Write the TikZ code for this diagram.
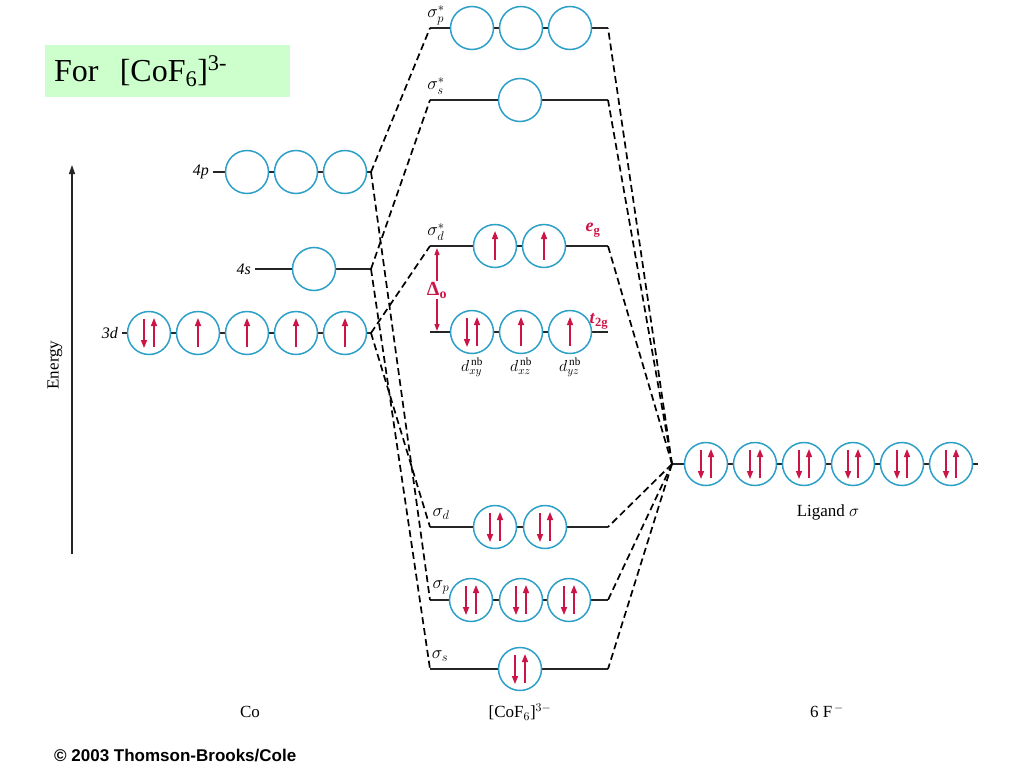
\RequirePackage{fix-cm}
\documentclass[tikz,border=0pt]{standalone}
\usepackage{fontspec}
\setmainfont{Liberation Serif}
\newfontfamily\arialfont{Liberation Sans}
\usepackage{amsmath}
\usepackage{tikz}
\usetikzlibrary{arrows.meta}
\definecolor{orbblue}{RGB}{45,160,200}
\definecolor{spinred}{RGB}{205,20,70}
\definecolor{boxgreen}{RGB}{204,255,204}

\newcommand{\spinup}[1]{\draw[spin] ([yshift=-14pt]#1.center) -- ([yshift=15pt]#1.center);}
\newcommand{\spinpair}[1]{\draw[spin] ([xshift=-5pt,yshift=14pt]#1.center) -- ([xshift=-5pt,yshift=-15pt]#1.center);
  \draw[spin] ([xshift=5pt,yshift=-14pt]#1.center) -- ([xshift=5pt,yshift=15pt]#1.center);}

\begin{document}
\begin{tikzpicture}
  [x=1pt,y=-1pt,
   orb/.style={circle,draw=orbblue,line width=1.5pt,fill=white,minimum size=43pt,inner sep=0pt},
   lvl/.style={line width=1.4pt,black!85},
   conn/.style={line width=1.7pt,dash pattern=on 7pt off 4pt},
   spin/.style={spinred,line width=1.5pt,-{Triangle[length=8pt,width=6pt]}},
   splitarrow/.style={spinred,line width=1.2pt,-{Triangle[length=7pt,width=5pt]}},
   lbl/.style={font=\fontsize{18}{20}\selectfont,inner sep=1pt},
   colname/.style={font=\fontsize{17}{20}\selectfont}]
  \useasboundingbox (0,0) rectangle (1024,768);

  % level ends
  \coordinate (p4L) at (213,172);  \coordinate (p4R) at (371,172);
  \coordinate (s4L) at (255,269);  \coordinate (s4R) at (371,269);
  \coordinate (d3L) at (122,333);  \coordinate (d3R) at (371,333);
  \coordinate (paL) at (430,28);   \coordinate (paR) at (608,28);
  \coordinate (saL) at (430,100);  \coordinate (saR) at (608,100);
  \coordinate (daL) at (430,246);  \coordinate (daR) at (608,246);
  \coordinate (nbL) at (430,332);  \coordinate (nbR) at (608,332);
  \coordinate (dbL) at (430,527);  \coordinate (dbR) at (608,527);
  \coordinate (pbL) at (430,600);  \coordinate (pbR) at (608,600);
  \coordinate (sbL) at (430,669);  \coordinate (sbR) at (608,669);
  \coordinate (lgL) at (672,464);  \coordinate (lgR) at (978,464);

  \foreach \from/\to in {p4L/p4R,s4L/s4R,d3L/d3R,paL/paR,saL/saR,daL/daR,
  nbL/nbR,dbL/dbR,pbL/pbR,sbL/sbR,lgL/lgR}
    \draw[lvl] (\from) -- (\to);

  % connectors
  \foreach \from/\to in {p4R/paL,p4R/pbL,s4R/saL,s4R/sbL,d3R/daL,d3R/dbL}
    \draw[conn] (\from) -- (\to);
\path[conn]
(lgL) edge (paR)
(lgL) edge (saR)
(lgL) edge (daR)
(lgL) edge (dbR)
(lgL) edge (pbR)
(lgL) edge (sbR);

  % orbitals
  \foreach \i/\x in {1/247,2/296,3/345} \node[orb] (p\i) at (\x,172) {};
  \node[orb] (s1) at (314,269) {};
  \foreach \i/\x in {1/149,2/198,3/247,4/296,5/345} \node[orb] (d\i) at (\x,333) {};
  \foreach \i/\x in {1/472,2/521,3/570} \node[orb] (pa\i) at (\x,28) {};
  \node[orb] (sa1) at (520,100) {};
  \foreach \i/\x in {1/495,2/544} \node[orb] (da\i) at (\x,246) {};
  \foreach \i/\x in {1/472,2/521,3/570} \node[orb] (nb\i) at (\x,332) {};
  \foreach \i/\x in {1/495,2/545} \node[orb] (db\i) at (\x,527) {};
  \foreach \i/\x in {1/471,2/521,3/569} \node[orb] (pb\i) at (\x,600) {};
  \node[orb] (sb1) at (520,669) {};
  \foreach \i/\x in {1/706,2/755,3/804,4/853,5/902,6/951} \node[orb] (L\i) at (\x,464) {};

  % electrons
  \foreach \o in {d2,d3,d4,d5,da1,da2,nb2,nb3} {\spinup{\o}}
  \foreach \o in {d1,nb1,db1,db2,pb1,pb2,pb3,sb1,L1,L2,L3,L4,L5,L6} {\spinpair{\o}}

  % labels
  \node[lbl,anchor=east,font=\fontsize{16}{18}\selectfont] (t4p) at (210,172) {\textit{4p}};
  \node[lbl,anchor=east,font=\fontsize{16}{18}\selectfont] (t4s) at (252,269) {\textit{4s}};
  \node[lbl,anchor=east,font=\fontsize{16}{18}\selectfont] (t3d) at (119,333) {\textit{3d}};
  \node[lbl] (tpa) at (436,15) {$\sigma^{*}_{p}$};
  \node[lbl] (tsa) at (436,86) {$\sigma^{*}_{s}$};
  \node[lbl] (tda) at (436,232) {$\sigma^{*}_{d}$};
  \node[lbl] (tdb) at (441,514) {$\sigma_{d}$};
  \node[lbl] (tpb) at (441,587) {$\sigma_{p}$};
  \node[lbl] (tsb) at (440,656) {$\sigma_{s}$};
  \node[lbl,text=spinred] (teg) at (593,230) {\textbf{\textit{e}\textsubscript{g}}};
  \node[lbl,text=spinred] (tt2g) at (599,321) {\textbf{\textit{t}\textsubscript{2g}}};
  \foreach \i/\s in {1/xy,2/xz,3/yz}
    \node[lbl,below=2pt,font=\fontsize{16}{18}\selectfont] (tnb\i) at (nb\i.south) {$d^{\,\mathrm{nb}}_{\s}$};

  \coordinate (gtop) at (437,248);
  \coordinate (gbot) at (437,331);
  \node[lbl,text=spinred,font=\fontsize{20}{22}\selectfont] (delta) at (437,290) {\textbf{Δ\textsubscript{o}}};
  \draw[splitarrow] (delta) -- (gtop);
  \draw[splitarrow] (delta) -- (gbot);

  \coordinate (ebot) at (72,554);
  \coordinate (etop) at (72,165);
  \draw[line width=1.4pt,black!85,-{Triangle[length=9pt,width=6pt]}] (ebot) -- (etop);
  \node[colname,rotate=90] (energy) at (55,365) {Energy};

  \node[colname] (tco) at (250,712) {Co};
  \node[colname] (tcomplex) at (520,712) {[CoF$_6$]$^{3-}$};
  \node[colname] (tfluoride) at (827,711) {6 F$^{\,-}$};
  \node[colname] (tligand) at (828,512) {Ligand $\sigma$};

  \node[fill=boxgreen,minimum width=245pt,minimum height=52pt,text width=227pt,
        inner xsep=9pt,align=left,font=\fontsize{32}{34}\selectfont] (title) at (167.5,71)
        {For\ \ [CoF\textsubscript{6}]\textsuperscript{3-}};
  \node[anchor=west,font=\arialfont\bfseries\fontsize{17}{20}\selectfont,inner sep=0pt] (credit) at (54,755)
        {\textcopyright\ 2003 Thomson-Brooks/Cole};
\end{tikzpicture}
\end{document}
